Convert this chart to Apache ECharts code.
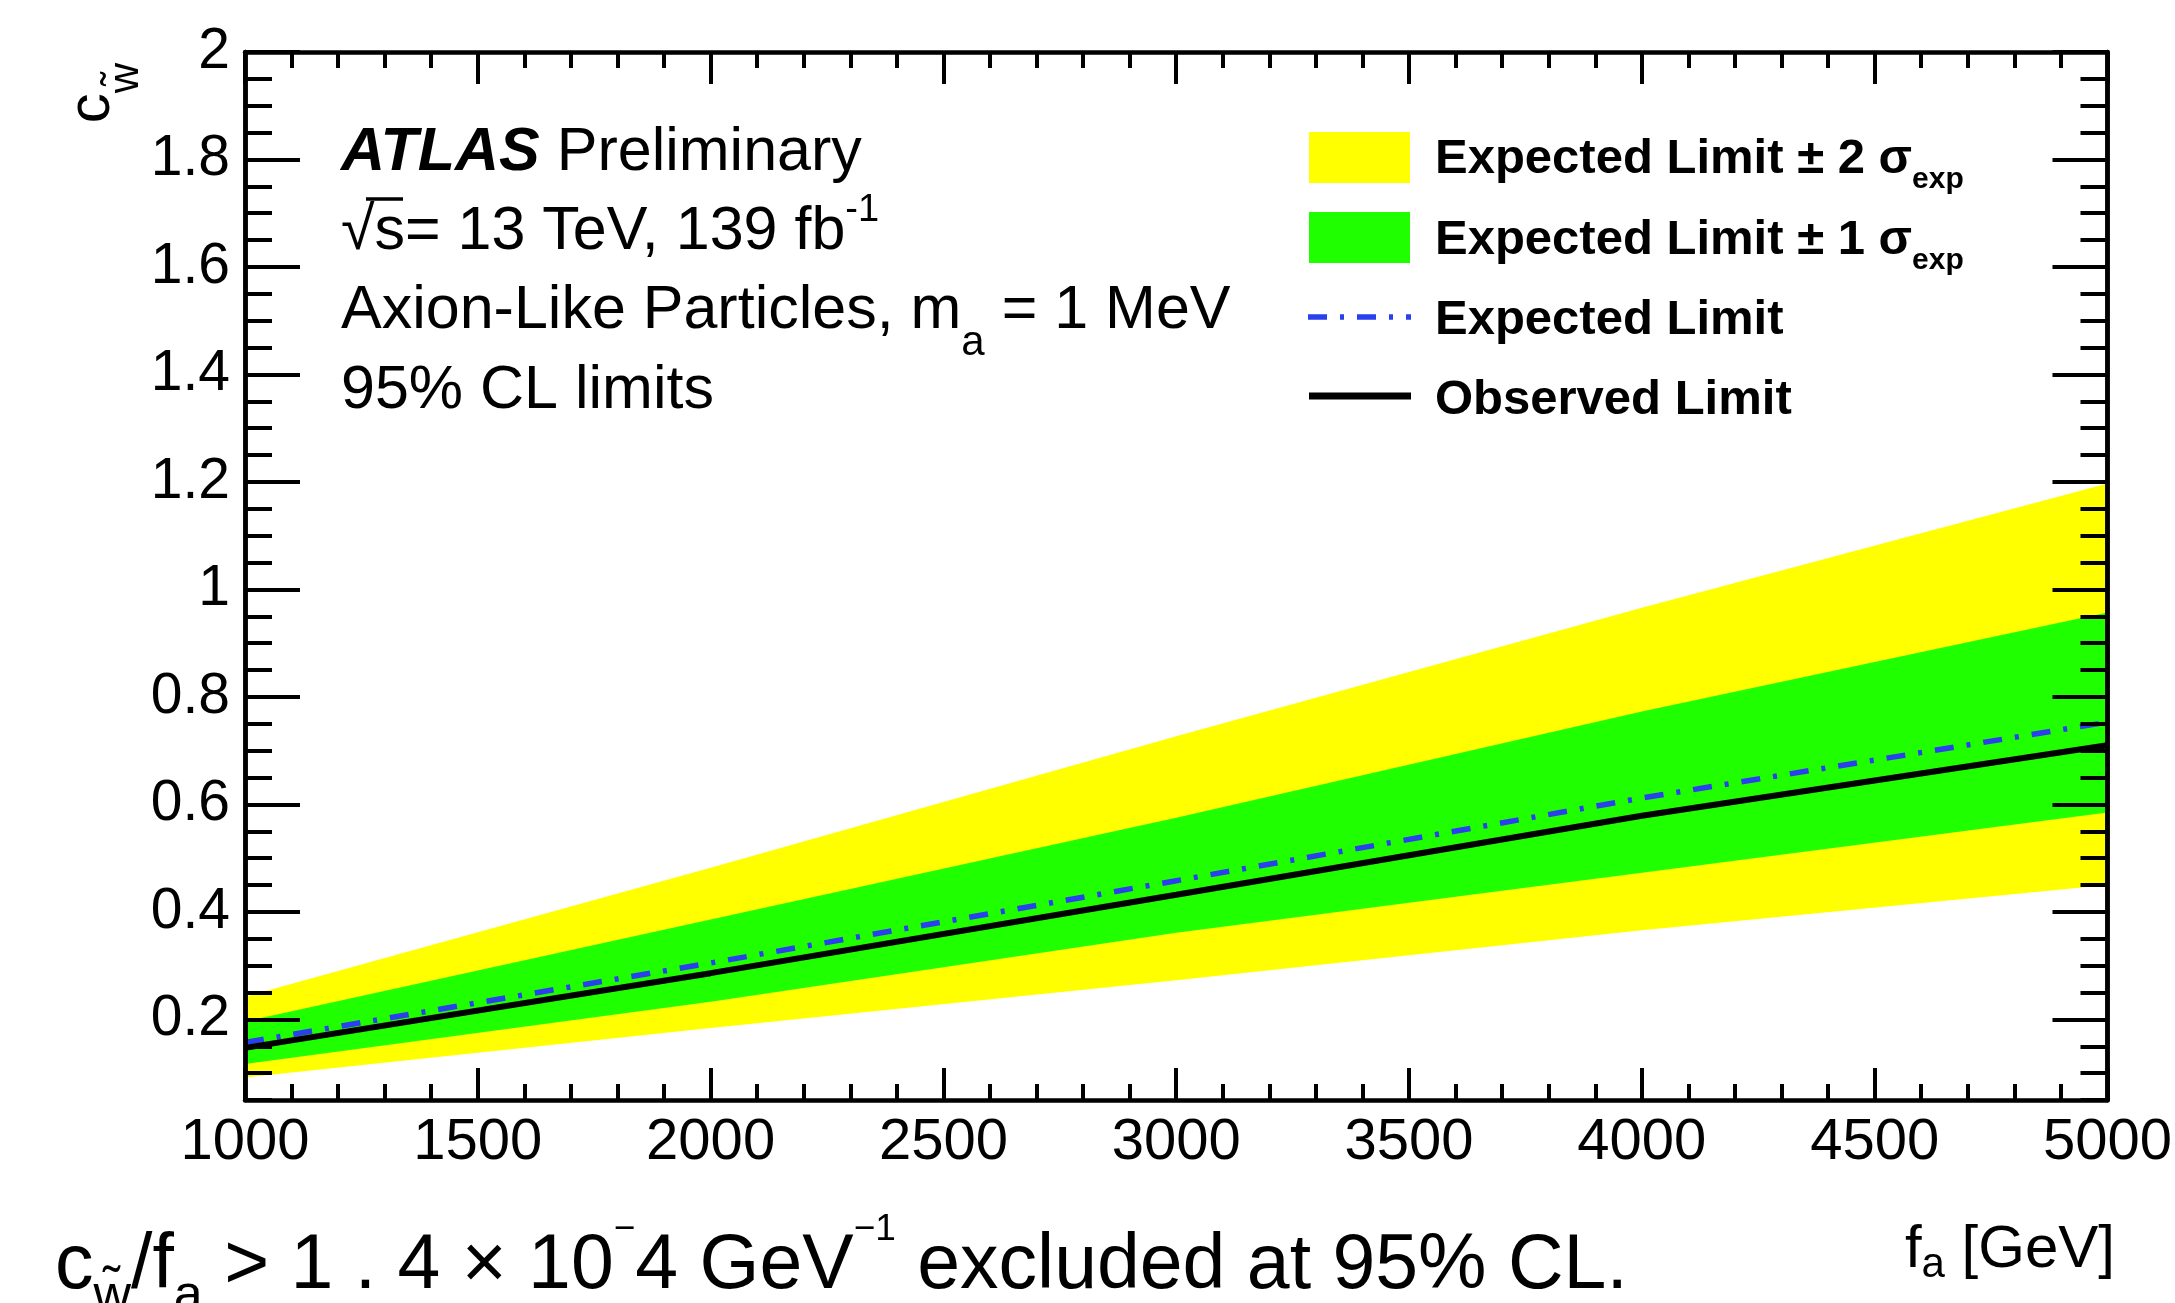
<!DOCTYPE html>
<html>
<head>
<meta charset="utf-8">
<script src="https://cdn.jsdelivr.net/npm/echarts@6/dist/echarts.min.js"></script>
<style>
html,body{margin:0;padding:0;background:#ffffff;}
#chart{width:2175px;height:1303px;}
</style>
</head>
<body>
<div id="chart"></div>
<script>
// ---- data ----
const faValues      = [1000, 2000, 3000, 4000, 5000];
const band2Upper    = [0.242, 0.482, 0.727, 0.966, 1.197];
const band1Upper    = [0.196, 0.386, 0.575, 0.773, 0.957];
const expectedLimit = [0.157, 0.305, 0.458, 0.612, 0.753];
const observedLimit = [0.147, 0.286, 0.432, 0.579, 0.710];
const band1Lower    = [0.117, 0.233, 0.361, 0.473, 0.585];
const band2Lower    = [0.092, 0.184, 0.273, 0.366, 0.450];

const xTickLabels   = [1000, 1500, 2000, 2500, 3000, 3500, 4000, 4500, 5000];
const yMajorTicks   = [0.2, 0.4, 0.6, 0.8, 1.0, 1.2, 1.4, 1.6, 1.8, 2.0];
const yMinorStep    = 0.05;

const legendLabels = [
  { main: 'Expected Limit ± 2 σ', sub: 'exp' },
  { main: 'Expected Limit ± 1 σ', sub: 'exp' },
  { main: 'Expected Limit', sub: '' },
  { main: 'Observed Limit', sub: '' }
];

// ---- styling ----
const FONT = 'Liberation Sans, Arial, Helvetica, sans-serif';
const YELLOW = '#ffff00';
const GREEN = '#1fff00';
const BLUE = '#2a40ee';
const DASHDOT = [19, 13, 4, 13];

const yMinorTicks = [];
for (let k = 1; k <= 40; k++) yMinorTicks.push(+(k * yMinorStep).toFixed(2));
const pairs = arr => faValues.map((x, i) => [x, arr[i]]);

const axisLine = { show: true, onZero: false, lineStyle: { color: '#000', width: 4.5 } };
const tickStyle = { color: '#000', width: 4 };

function makeXAxis(pos, showLabel) {
  return {
    type: 'value', gridIndex: 0, position: pos, min: 1000, max: 5000, interval: 500, z: 5,
    axisLine: axisLine,
    axisTick: { show: true, inside: true, length: 32, lineStyle: tickStyle },
    minorTick: { show: true, splitNumber: 5, length: 16, lineStyle: tickStyle },
    axisLabel: {
      show: showLabel, margin: 14, fontSize: 58, fontFamily: FONT, color: '#000',
      showMinLabel: true, showMaxLabel: true,
      customValues: xTickLabels,
      formatter: v => String(v)
    },
    splitLine: { show: false }, minorSplitLine: { show: false }
  };
}
function makeYAxis(pos, ticks, len, showLabel) {
  return {
    type: 'value', gridIndex: 0, position: pos, min: 0.05, max: 2, z: 5,
    axisLine: axisLine,
    axisTick: { show: true, inside: true, length: len, lineStyle: tickStyle, customValues: ticks },
    axisLabel: {
      show: showLabel, margin: 15, fontSize: 57, fontFamily: FONT, color: '#000',
      padding: [6, 0, 0, 0],
      customValues: yMajorTicks,
      formatter: v => String(Math.round(v * 10) / 10)
    },
    splitLine: { show: false }
  };
}

function bandSeries(name, lo, hi, color, z) {
  return {
    type: 'custom', name: name, z: z, silent: true, clip: true,
    data: faValues.map((x, i) => [x, lo[i], hi[i]]),
    encode: { x: 0, y: [1, 2] },
    renderItem: function (params, api) {
      if (params.dataIndex !== 0) return null;
      const pts = [];
      for (let j = 0; j < faValues.length; j++) pts.push(api.coord([faValues[j], hi[j]]));
      for (let j = faValues.length - 1; j >= 0; j--) pts.push(api.coord([faValues[j], lo[j]]));
      return { type: 'polygon', shape: { points: pts }, style: { fill: color, stroke: null } };
    }
  };
}

const chart = echarts.init(document.getElementById('chart'), null, { renderer: 'canvas' });

const legendRich = {
  m: { fontFamily: FONT, fontSize: 49, fontWeight: 'bold', fill: '#000', lineHeight: 72 },
  s: { fontFamily: FONT, fontSize: 30, fontWeight: 'bold', fill: '#000', lineHeight: 32, verticalAlign: 'bottom' }
};
const legendRowY = [159, 240, 320, 400];
function legendText(i) {
  const l = legendLabels[i];
  return {
    type: 'text', x: 1435, y: legendRowY[i], z: 10,
    style: {
      text: '{m|' + l.main + '}' + (l.sub ? '{s|' + l.sub + '}' : ''),
      align: 'left', verticalAlign: 'middle', rich: legendRich
    }
  };
}

const option = {
  backgroundColor: '#ffffff',
  animation: false,
  grid: { left: 245, top: 52, right: 62, bottom: 203, containLabel: false, show: false },
  xAxis: [ makeXAxis('bottom', true), makeXAxis('top', false) ],
  yAxis: [
    makeYAxis('left', yMajorTicks, 55, true),
    makeYAxis('left', yMinorTicks, 27, false),
    makeYAxis('right', yMajorTicks, 55, false),
    makeYAxis('right', yMinorTicks, 27, false)
  ],
  series: [
    bandSeries('Expected Limit ± 2 σexp', band2Lower, band2Upper, YELLOW, 2),
    bandSeries('Expected Limit ± 1 σexp', band1Lower, band1Upper, GREEN, 3),
    {
      name: 'Expected Limit', type: 'line', data: pairs(expectedLimit),
      symbol: 'none', silent: true, color: BLUE,
      lineStyle: { color: BLUE, width: 5.5, type: DASHDOT }, z: 4
    },
    {
      name: 'Observed Limit', type: 'line', data: pairs(observedLimit),
      symbol: 'none', silent: true, color: '#000000',
      lineStyle: { color: '#000000', width: 6 }, z: 4
    }
  ],
  graphic: [
    // legend
    { type: 'rect', z: 10, shape: { x: 1309, y: 132, width: 101, height: 51 }, style: { fill: YELLOW } },
    { type: 'rect', z: 10, shape: { x: 1309, y: 212, width: 101, height: 51 }, style: { fill: GREEN } },
    { type: 'line', z: 10, shape: { x1: 1308, y1: 317, x2: 1411, y2: 317 }, style: { stroke: BLUE, lineWidth: 5.5, lineDash: DASHDOT } },
    { type: 'line', z: 10, shape: { x1: 1309, y1: 396, x2: 1411, y2: 396 }, style: { stroke: '#000', lineWidth: 7 } },
    legendText(0), legendText(1), legendText(2), legendText(3),
    // ATLAS label block
    {
      type: 'text', x: 341, y: 153, z: 10,
      style: {
        text: '{a|ATLAS}{b| Preliminary}', align: 'left', verticalAlign: 'middle',
        rich: {
          a: { fontFamily: FONT, fontSize: 61, fontWeight: 'bold', fontStyle: 'italic', fill: '#000' },
          b: { fontFamily: FONT, fontSize: 61, fill: '#000' }
        }
      }
    },
    {
      type: 'text', x: 341, y: 232, z: 10,
      style: {
        text: '{m|√s= 13 TeV, 139 fb}{p|-1}', align: 'left', verticalAlign: 'middle',
        rich: {
          m: { fontFamily: FONT, fontSize: 61, lineHeight: 80, fill: '#000' },
          p: { fontFamily: FONT, fontSize: 38, lineHeight: 42, verticalAlign: 'top', fill: '#000' }
        }
      }
    },
    {
      type: 'line', z: 10,
      shape: { x1: 366, y1: 199, x2: 403, y2: 199 },
      style: { stroke: '#000', lineWidth: 3.5 }
    },
    {
      type: 'text', x: 341, y: 311, z: 10,
      style: {
        text: '{m|Axion-Like Particles, m}{s|a}{m| = 1 MeV}', align: 'left', verticalAlign: 'middle',
        rich: {
          m: { fontFamily: FONT, fontSize: 61, lineHeight: 106, fill: '#000' },
          s: { fontFamily: FONT, fontSize: 42, lineHeight: 45, verticalAlign: 'bottom', fill: '#000' }
        }
      }
    },
    {
      type: 'text', x: 341, y: 391, z: 10,
      style: { text: '95% CL limits', align: 'left', verticalAlign: 'middle', fontFamily: FONT, fontSize: 61, fill: '#000' }
    },
    // axis titles
    {
      type: 'text', x: 92, y: 63, rotation: Math.PI / 2, z: 10,
      style: {
        text: '{c|c}{s|w\u0303}', align: 'right', verticalAlign: 'middle',
        rich: {
          c: { fontFamily: FONT, fontSize: 60, lineHeight: 110, fill: '#000' },
          s: { fontFamily: FONT, fontSize: 42, lineHeight: 50, verticalAlign: 'bottom', fill: '#000' }
        }
      }
    },
    {
      type: 'text', x: 2115, y: 1250, z: 10,
      style: {
        text: '{m|f}{s|a}{m| [GeV]}', align: 'right', verticalAlign: 'middle',
        rich: {
          m: { fontFamily: FONT, fontSize: 60, lineHeight: 72, fill: '#000' },
          s: { fontFamily: FONT, fontSize: 42, lineHeight: 43, verticalAlign: 'bottom', fill: '#000' }
        }
      }
    },
    // caption below the plot
    {
      type: 'text', x: 55, y: 1267, z: 10,
      style: {
        text: '{m|c}{s|w\u0303}{m|/f}{s|a}{m| > 1 . 4 × 10}{p|−}{m|4 GeV}{p|−1}{m| excluded at 95% CL.}',
        align: 'left', verticalAlign: 'middle',
        rich: {
          m: { fontFamily: FONT, fontSize: 77, lineHeight: 112, fill: '#000' },
          s: { fontFamily: FONT, fontSize: 52, lineHeight: 54, verticalAlign: 'bottom', fill: '#000' },
          p: { fontFamily: FONT, fontSize: 37, lineHeight: 52, verticalAlign: 'top', fill: '#000' }
        }
      }
    }
  ]
};

chart.setOption(option);
</script>
</body>
</html>
